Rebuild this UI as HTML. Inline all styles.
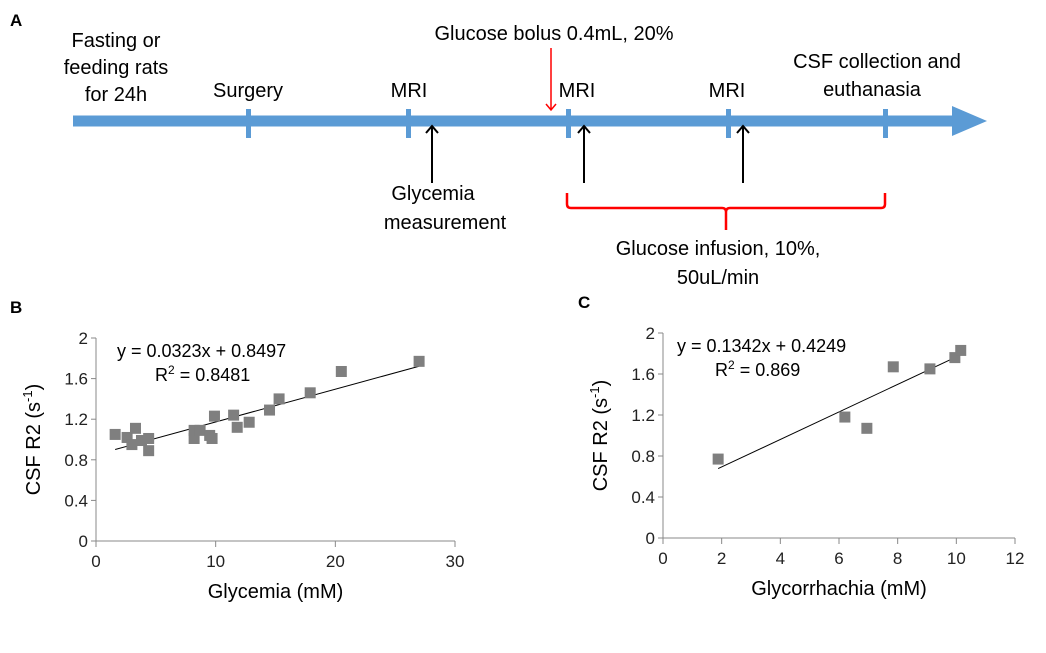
<!DOCTYPE html>
<html><head><meta charset="utf-8"><style>
body{margin:0;background:#fff;}
svg{display:block;font-family:"Liberation Sans",sans-serif;}
</style></head><body>
<svg width="1046" height="653" viewBox="0 0 1046 653">
<g>
<text x="10" y="26" font-size="17" font-weight="bold">A</text>
<rect x="73" y="115.5" width="884" height="11" fill="#5b9bd5"/>
<polygon points="952,106 987,121 952,136" fill="#5b9bd5"/>
<g fill="#5b9bd5">
<rect x="246" y="109" width="5" height="29"/><rect x="406" y="109" width="5" height="29"/><rect x="566" y="109" width="5" height="29"/><rect x="726" y="109" width="5" height="29"/><rect x="883" y="109" width="5" height="29"/>
</g>
<g font-size="20" text-anchor="middle" fill="#000">
<text x="116" y="47">Fasting or</text>
<text x="116" y="74">feeding  rats</text>
<text x="116" y="101">for 24h</text>
<text x="248" y="97">Surgery</text>
<text x="409" y="97">MRI</text>
<text x="577" y="97">MRI</text>
<text x="727" y="97">MRI</text>
<text x="554" y="40">Glucose bolus 0.4mL, 20%</text>
<text x="877" y="68">CSF collection and</text>
<text x="872" y="96">euthanasia</text>
<text x="433" y="200">Glycemia</text>
<text x="445" y="229">measurement</text>
<text x="718" y="255">Glucose infusion, 10%,</text>
<text x="718" y="284">50uL/min</text>
</g>
<g stroke="#000" stroke-width="2" fill="none">
<path d="M432,183 V126 M426,133 L432,126 L438,133"/>
<path d="M584,183 V126 M578,133 L584,126 L590,133"/>
<path d="M743,183 V126 M737,133 L743,126 L749,133"/>
</g>
<path d="M551,48 V110 M546,104 L551,110 L556,104" stroke="#f00" stroke-width="1.5" fill="none"/>
<path d="M567,193 V204 Q567,208 571,208 H722 Q726,208 726,212 V230 M726,212 Q726,208 730,208 H881 Q885,208 885,204 V193" stroke="#f00" stroke-width="2.5" fill="none"/>
</g>
<g id="chartB"></g>
<g id="chartC"></g>
</svg>
<script>
const bX=[1.6,2.6,3.3,3.0,3.8,4.4,4.4,8.2,8.2,8.7,9.5,9.7,9.9,11.5,11.8,12.8,14.5,15.3,17.9,20.5,27.0];
const bY=[1.05,1.02,1.11,0.95,0.99,1.01,0.89,1.09,1.01,1.09,1.04,1.01,1.23,1.24,1.12,1.17,1.29,1.40,1.46,1.67,1.77];
const bXTicks=[0,10,20,30];
const bYTicks=[0,0.4,0.8,1.2,1.6,2];
const bFit=[0.0323,0.8497];
const cX=[1.88,6.2,6.95,7.85,9.1,9.95,10.15];
const cY=[0.77,1.18,1.07,1.67,1.65,1.76,1.83];
const cXTicks=[0,2,4,6,8,10,12];
const cYTicks=[0,0.4,0.8,1.2,1.6,2];
const cFit=[0.1342,0.4249];
const NS='http://www.w3.org/2000/svg';
function mk(p,t,a){const e=document.createElementNS(NS,t);for(const k in a)e.setAttribute(k,a[k]);p.appendChild(e);return e;}
function chart(g,o){
 const sx=v=>o.x0+(v-o.xmin)/(o.xmax-o.xmin)*(o.x1-o.x0);
 const sy=v=>o.y0-(v)/(2)*(o.y0-o.y1);
 let t=mk(g,'text',{x:o.lx,y:o.y1-25,'font-size':17,'font-weight':'bold'});t.textContent=o.label;
 
 
 let ax=mk(g,'path',{d:`M${o.x0},${o.y1} V${o.y0} H${o.x1}`,stroke:'#888',fill:'none'});
 
 
 o.yt.forEach(v=>{mk(g,'line',{x1:o.x0-5,x2:o.x0,y1:sy(v),y2:sy(v),stroke:'#888'});
  const l=mk(g,'text',{x:o.x0-8,y:sy(v)+6,'font-size':17,'text-anchor':'end',fill:'#222'});l.textContent=v;
  
  });
 o.xt.forEach(v=>{mk(g,'line',{x1:sx(v),x2:sx(v),y1:o.y0,y2:o.y0+6,stroke:'#888'});
  const l=mk(g,'text',{x:sx(v),y:o.y0+26,'font-size':17,'text-anchor':'middle',fill:'#222'});l.textContent=v;
  
  });
 const xa=Math.min(...o.xs),xb=Math.max(...o.xs);
 const fl=mk(g,'line',{x1:sx(xa),y1:sy(o.fit[0]*xa+o.fit[1]),x2:sx(xb),y2:sy(o.fit[0]*xb+o.fit[1]),stroke:'#000','stroke-width':1});
 
 
 o.xs.forEach((v,i)=>{const r=mk(g,'rect',{x:sx(v)-5.5,y:sy(o.ys[i])-5.5,width:11,height:11,fill:'#7f7f7f'});
  
  });
 let e=mk(g,'text',{x:o.ex,y:o.y1+19,'font-size':18});e.textContent=o.eq;
 
 
 let r2=mk(g,'text',{x:o.ex+38,y:o.y1+43,'font-size':18});r2.innerHTML='R<tspan dy="-7" font-size="12">2</tspan><tspan dy="7"> = '+o.r2+'</tspan>';
 
 
 let xt=mk(g,'text',{x:(o.x0+o.x1)/2,y:o.y0+57,'font-size':20,'text-anchor':'middle'});xt.textContent=o.xl;
 
 
 let yt=mk(g,'text',{transform:`translate(${o.x0-56},${(o.y0+o.y1)/2}) rotate(-90)`,'font-size':20,'text-anchor':'middle'});
 yt.innerHTML='CSF R2 (s<tspan dy="-8" font-size="13">-1</tspan><tspan dy="8">)</tspan>';
 
 
}
chart(document.getElementById('chartB'),{x0:96,x1:455,y0:541,y1:338,xmin:0,xmax:30,xs:bX,ys:bY,xt:bXTicks,yt:bYTicks,fit:bFit,label:'B',lx:10,ex:117,eq:'y = 0.0323x + 0.8497',r2:'0.8481',xl:'Glycemia (mM)'});
chart(document.getElementById('chartC'),{x0:663,x1:1015,y0:538,y1:333,xmin:0,xmax:12,xs:cX,ys:cY,xt:cXTicks,yt:cYTicks,fit:cFit,label:'C',lx:578,ex:677,eq:'y = 0.1342x + 0.4249',r2:'0.869',xl:'Glycorrhachia (mM)'});
</script>
</body></html>
